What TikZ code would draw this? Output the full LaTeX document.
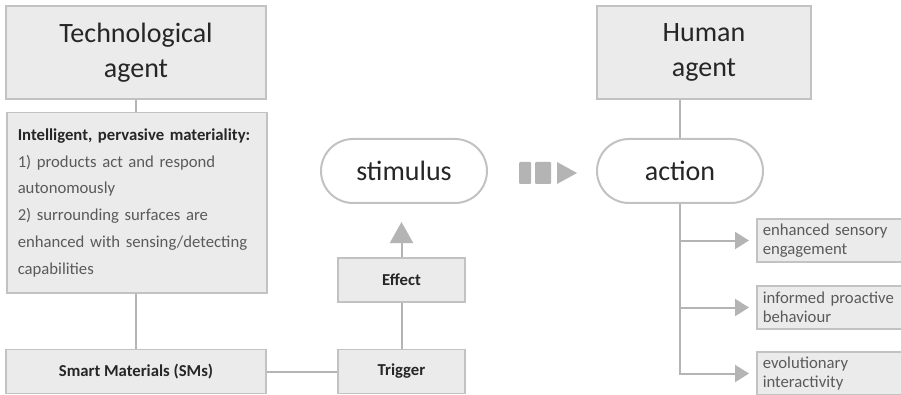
\documentclass[tikz,border=0pt]{standalone}
\usepackage{fontspec}
\setmainfont{Carlito}
\usetikzlibrary{arrows.meta,positioning}
\definecolor{boxfill}{HTML}{EBEBEB}
\definecolor{boxline}{HTML}{C2C2C2}
\definecolor{linkgray}{HTML}{B4B4B4}
\definecolor{txtdark}{HTML}{262626}
\definecolor{txtgray}{HTML}{5A5A5A}
\tikzset{
  agentbox/.style={
    rectangle,draw=boxline,fill=boxfill,line width=1.5pt,
    minimum height=93pt,align=center,text=txtdark,
    font=\fontsize{28}{35}\selectfont,
  },
  smallbox/.style={
    rectangle,draw=boxline,fill=boxfill,line width=1.5pt,
    minimum height=44pt,text=txtdark,
    font=\fontsize{16.7}{20}\selectfont\bfseries,
  },
  pill/.style={
    rectangle,rounded corners=32pt,draw=boxline,fill=white,line width=2pt,
    minimum width=166pt,minimum height=64pt,text=txtdark,
    font=\fontsize{28}{34}\selectfont,
  },
  outcome/.style={
    rectangle,draw=boxline,fill=boxfill,line width=1.5pt,anchor=west,
    text width=140pt,inner xsep=6pt,minimum height=43pt,align=left,
    text=txtgray,font=\fontsize{16.7}{19}\selectfont,
  },
  link/.style={draw=linkgray,line width=2pt},
  flow/.style={link,-{Triangle[width=23pt,length=21pt]},shorten >=18pt},
  branch/.style={link,-{Triangle[width=17pt,length=14pt]},shorten >=7pt},
}
\begin{document}
\begin{tikzpicture}[x=1pt,y=-1pt]
  \useasboundingbox[fill=white] (0,0) rectangle (901,395);
  \clip (0,0) rectangle (901,395);

  % technological side
  \node (tech) [agentbox,minimum width=260pt] at (136,52.5) {Technological\\agent};
  \node (intel) [rectangle,draw=boxline,fill=boxfill,line width=1.5pt,
    anchor=north west,text width=238pt,inner xsep=11pt,minimum height=180pt,
    align=left,text=txtgray,font=\fontsize{16.7}{26.7}\selectfont]
    at (6,112) {{\bfseries\color{txtdark}Intelligent, pervasive materiality:}\\
      1) products act and respond\\ autonomously\\
      2) surrounding surfaces are\\ enhanced with sensing/detecting\\
      capabilities\\[8pt]};
  \node (smart) [smallbox,minimum width=260pt] at (136,371.5) {Smart Materials (SMs)};
  \node (trigger) [smallbox,minimum width=127pt] at (401.5,371.5) {Trigger};
  \node (effect) [smallbox,minimum width=127pt] at (401.5,280) {Effect};
  \node (stimulus) [pill] at (404,171) {stimulus};

  \draw [link] (tech.south) -- (intel.north -| tech.south);
  \draw [link] (intel.south -| smart.north) -- (smart.north);
  \draw [link] (smart.east) -- (trigger.west);
  \draw [link] (trigger.north) -- (effect.south);
  \draw [flow] (effect.north) -- (effect.north |- stimulus.south);

  % stimulus leads to action
  \fill [linkgray,rounded corners=1pt] (519,162) rectangle (531,184);
  \fill [linkgray,rounded corners=1pt] (535,162) rectangle (551,184);
  \fill [linkgray] (557,162) -- (577,173) -- (557,184) -- cycle;

  % human side
  \node (human) [agentbox,minimum width=214pt] at (704,52.5) {Human\\agent};
  \node (action) [pill] at (680,171) {action};
  \draw [link] (action.north) -- (action.north |- human.south);

  \node (sense) [outcome] at (756,240.5) {enhanced sensory\\engagement};
  \node (proact) [outcome] at (756,307.5) {informed proactive\\behaviour};
  \node (evol) [outcome] at (756,373.5) {evolutionary\\interactivity};
  \foreach \o in {sense,proact,evol}
    \draw [branch] (action.south) |- (\o.west);
\end{tikzpicture}
\end{document}
